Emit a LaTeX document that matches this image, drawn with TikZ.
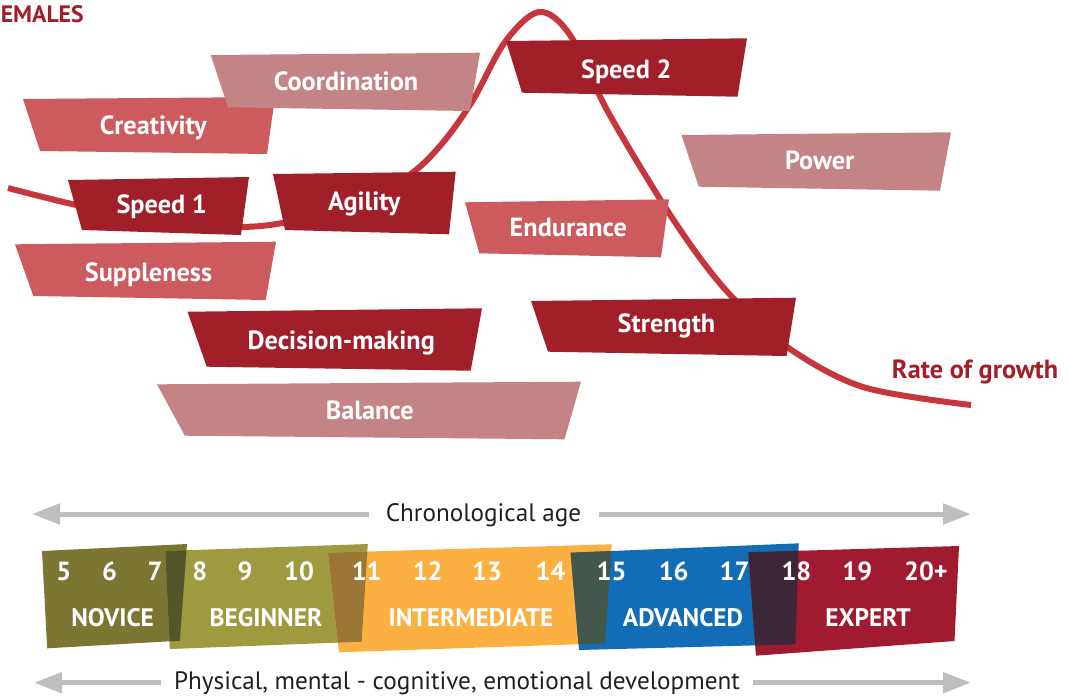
\documentclass[tikz,border=0pt]{standalone}
\usepackage{fontspec}
\setmainfont{PT Sans}
\usetikzlibrary{arrows.meta}
\definecolor{dred}{HTML}{A01F28}
\definecolor{mred}{HTML}{CD5A5C}
\definecolor{lred}{HTML}{C48387}
\definecolor{curvec}{HTML}{C7353D}
\definecolor{novc}{HTML}{7B7632}
\definecolor{begc}{HTML}{9D9A3F}
\definecolor{intc}{HTML}{FBB041}
\definecolor{advc}{HTML}{136DB6}
\definecolor{expc}{HTML}{A01A30}
\definecolor{ovnb}{HTML}{525628}
\definecolor{ovbi}{HTML}{9B7634}
\definecolor{ovia}{HTML}{43584B}
\definecolor{ovae}{HTML}{3D2637}
\definecolor{greyc}{HTML}{BCBEC0}
\definecolor{txtc}{HTML}{231F20}
\tikzset{
  lbl/.style={text=white, font=\bfseries\fontsize{19.7}{21}\selectfont, inner sep=0pt, text height=13.8pt, text depth=0pt, anchor=center},
  stagelbl/.style={lbl, font=\bfseries\fontsize{19}{21}\selectfont, text height=13.3pt},
  redlbl/.style={lbl, text=dred},
  axtxt/.style={text=txtc, font=\fontsize{18.9}{21}\selectfont, inner ysep=0pt, anchor=base},
  garr/.style={draw=greyc, line width=3.75pt, -{Triangle[length=21pt,width=15pt]}},
}
\begin{document}
\begin{tikzpicture}[x=0.75pt,y=-0.75pt]
\useasboundingbox (0,0) rectangle (1069,697);
% growth curve
\draw[curvec, line width=4.5pt, line cap=butt]
  plot[smooth, tension=0.55] coordinates {(8,188) (72,204) (160,222) (242,227) (300,219) (380,192) (416,170) (445,140) (473,100) (505,42) (539,12) (570,35) (607,110) (660,199) (700,258) (735,300) (787,347) (863,387) (971,405)};
% boxes
\fill[mred] (23,99) -- (275,97) -- (267,154) -- (40,151) -- cycle;
\fill[lred] (210.7,55) -- (480,52.7) -- (470,111) -- (228,107.3) -- cycle;
\fill[dred] (68,180) -- (249,177) -- (241,235) -- (82,230) -- cycle;
\fill[dred] (273,174) -- (455.7,171.7) -- (449,234.3) -- (285,230) -- cycle;
\fill[dred] (506,41) -- (747,38.3) -- (737.5,96.7) -- (522,92.7) -- cycle;
\fill[lred] (681.4,135) -- (951,132.3) -- (940,190.7) -- (698.8,186.7) -- cycle;
\fill[mred] (465,202.3) -- (669,199.3) -- (661,257.3) -- (479.3,253.3) -- cycle;
\fill[mred] (15,244.3) -- (276,241.7) -- (265.7,300) -- (33.3,296) -- cycle;
\fill[dred] (531,301) -- (796,297.7) -- (786.6,356) -- (548,351.7) -- cycle;
\fill[dred] (187.5,311.7) -- (482,308.3) -- (470.7,370.7) -- (206.7,366.7) -- cycle;
\fill[lred] (157,384.3) -- (581,381.7) -- (564.5,439.3) -- (184.8,435.7) -- cycle;
% labels
\node[redlbl, font=\bfseries\fontsize{17.8}{20}\selectfont, anchor=west, text height=12.6pt] (title) at (0.5,14.5) {EMALES};
\node[lbl] (coord) at (346,81.3) {Coordination};
\node[lbl] (creat) at (153.3,125.5) {Creativity};
\node[lbl] (speedA) at (161.7,204) {Speed 1};
\node[lbl] (agil) at (364.3,201.3) {Agility};
\node[lbl] (speedB) at (626.3,69.7) {Speed 2};
\node[lbl] (power) at (819.7,160) {Power};
\node[lbl] (endur) at (568.3,227.5) {Endurance};
\node[lbl] (supp) at (148.5,272.7) {Suppleness};
\node[lbl] (stren) at (666.5,323.3) {Strength};
\node[lbl] (decis) at (341.2,340) {Decision-making};
\node[lbl] (balan) at (369.7,410) {Balance};
\node[redlbl] (rate) at (975,369.5) {Rate of growth};
% stage band
\def\novP{(42,551) -- (187,544) -- (179.8,640.7) -- (47.2,648.3) -- cycle}
\def\begP{(165.3,551) -- (367.8,544) -- (361.6,641.7) -- (169.8,649) -- cycle}
\def\intP{(328,552.7) -- (611.8,544.3) -- (605,643.3) -- (339,652.3) -- cycle}
\def\advP{(570.6,552.7) -- (798.8,543.3) -- (795.4,644.3) -- (579,650) -- cycle}
\def\expP{(748.3,552.3) -- (959,546) -- (954.5,641) -- (755.9,655.7) -- cycle}
\fill[novc] \novP;
\fill[begc] \begP;
\fill[intc] \intP;
\fill[advc] \advP;
\fill[expc] \expP;
\begin{scope}\clip \novP; \fill[ovnb] \begP; \end{scope}
\begin{scope}\clip \begP; \fill[ovbi] \intP; \end{scope}
\begin{scope}\clip \intP; \fill[ovia] \advP; \end{scope}
\begin{scope}\clip \advP; \fill[ovae] \expP; \end{scope}
% ages
\foreach \n/\xx in {5/63.7, 6/109.5, 7/155, 8/199.7, 9/245, 10/299, 11/366.7, 12/427.7, 13/487, 14/550.6, 15/611.5, 16/673.7, 17/734.5, 18/796.4, 19/857.3, 20+/926}
  \node[lbl] (age\n) at (\xx,571.3) {\n};
\node[stagelbl] (novice) at (112.6,617.7) {NOVICE};
\node[stagelbl] (beginner) at (266,617.7) {BEGINNER};
\node[stagelbl] (interm) at (471,617.7) {INTERMEDIATE};
\node[stagelbl] (advanced) at (683,617.7) {ADVANCED};
\node[stagelbl] (expert) at (868,617.7) {EXPERT};
% axes
\coordinate (aL) at (32,514);
\coordinate (aR) at (971,514);
\coordinate (bL) at (34,682.7);
\coordinate (bR) at (971,682.7);
\node[axtxt, inner xsep=12.75pt] (chron) at (483.5,521.7) {Chronological age};
\node[axtxt, inner xsep=9.5pt] (devel) at (457,689.3) {Physical, mental - cognitive, emotional development};
\draw[garr] (chron.west |- aL) -- (aL);
\draw[garr] (chron.east |- aR) -- (aR);
\draw[garr] (devel.west |- bL) -- (bL);
\draw[garr] (devel.east |- bR) -- (bR);
\end{tikzpicture}
\end{document}
